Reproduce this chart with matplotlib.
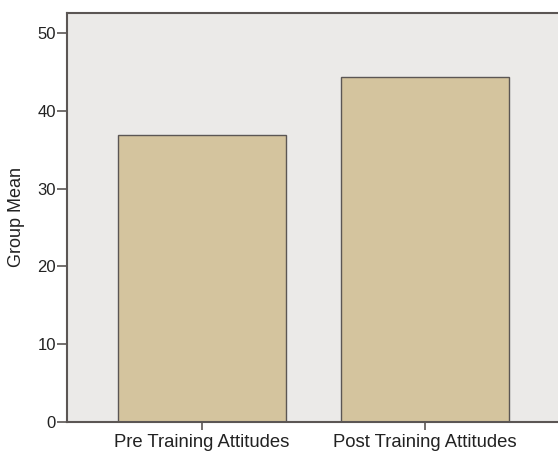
import matplotlib
matplotlib.use('Agg')
import matplotlib.pyplot as plt

plt.rcParams['font.family'] = ['Liberation Sans', 'DejaVu Sans']

# 数据
categories = ['Pre Training Attitudes', 'Post Training Attitudes']
group_means = [36.9, 44.4]
y_ticks = [0, 10, 20, 30, 40, 50]

fig = plt.figure(figsize=(5.58, 4.53), dpi=100)
ax = fig.add_axes([67 / 558, 31.3 / 453, 1 - 67 / 558, (421.7 - 13) / 453])

edge = '#5b5654'
ax.set_facecolor('#ebeae8')
ax.bar(range(len(categories)), group_means, width=0.75,
       color='#d4c49e', edgecolor=edge, linewidth=1.0, zorder=2)

ax.set_xlim(-0.605, 1.596)
ax.set_ylim(0, 52.6)
ax.set_yticks(y_ticks)
ax.set_xticks(range(len(categories)))
ax.set_xticklabels(categories, fontsize=13.3, color='#222222')
ax.tick_params(axis='y', labelsize=12, labelcolor='#222222',
               length=7, width=1.2, color=edge, pad=1)
ax.tick_params(axis='x', length=6, width=1.2, color=edge, pad=3)
ax.set_ylabel('Group Mean', fontsize=13, color='#222222', labelpad=9)

for side in ['left', 'bottom', 'top']:
    ax.spines[side].set_color(edge)
    ax.spines[side].set_linewidth(1.5)
ax.spines['right'].set_visible(False)

plt.savefig('out.png', dpi=100)
plt.close()
